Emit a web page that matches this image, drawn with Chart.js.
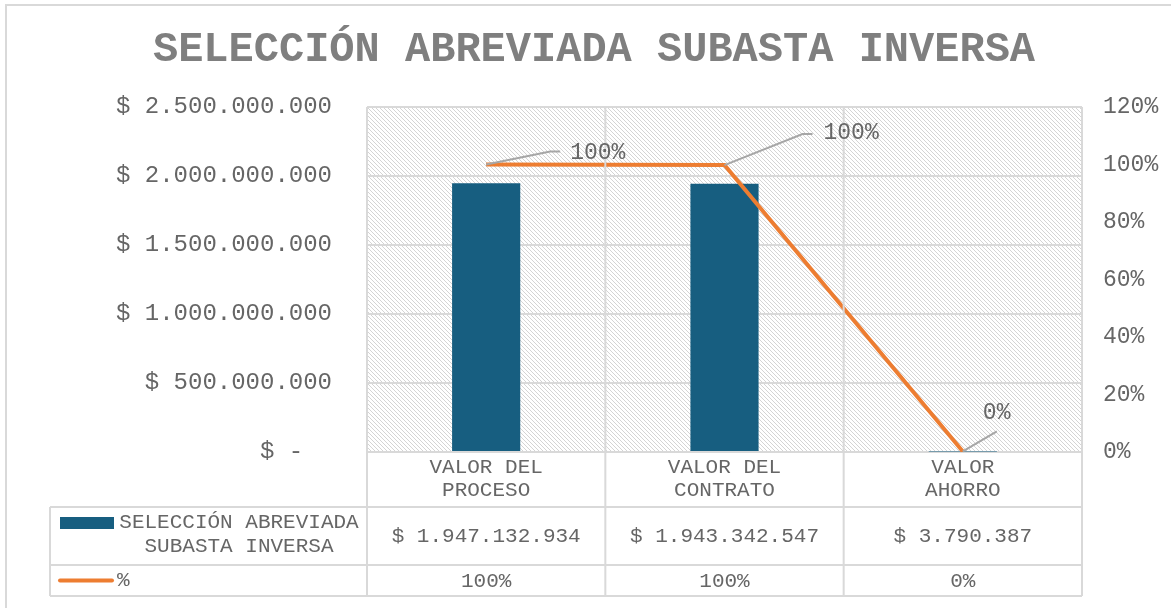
<!DOCTYPE html>
<html lang="es">
<head>
<meta charset="utf-8">
<title>Selección abreviada subasta inversa</title>
<script src="https://cdn.jsdelivr.net/npm/chart.js@4.4.1/dist/chart.umd.min.js"></script>
<style>
  html, body { margin: 0; padding: 0; background: #fff; }
  #wrap { width: 1171px; height: 608px; }
</style>
</head>
<body>
<div id="wrap"><canvas id="chart" width="1171" height="608"></canvas></div>
<script>
// ── Data ────────────────────────────────────────────────────
const TITLE = "SELECCIÓN ABREVIADA SUBASTA INVERSA";
const categories = [["VALOR DEL", "PROCESO"], ["VALOR DEL", "CONTRATO"], ["VALOR", "AHORRO"]];
const seriesNames = [["SELECCIÓN ABREVIADA", "SUBASTA INVERSA"], "%"];
const montos = [1947132934, 1943342547, 3790387];
const porcentajes = [100, 99.8, 0.2];
const montoTicks = [0, 500000000, 1000000000, 1500000000, 2000000000, 2500000000];
const pctTicks = [0, 20, 40, 60, 80, 100, 120];

// ── Styles ──────────────────────────────────────────────────
const FONT = "'Liberation Mono', 'Courier New', monospace";
const TEXT = "#666666";
const GRID = "#d9d9d9";
const BAR = "#175e80";
const LINE = "#ed7d31";
const LEADER = "#a6a6a6";

function miles(n) {
  return String(Math.round(n)).replace(/\B(?=(\d{3})+(?!\d))/g, ".");
}
function pesos(n) { return n === 0 ? "$ -  " : "$ " + miles(n); }
function pct(n) { return Math.round(n) + "%"; }

function hatchPattern(ctx) {
  const c = document.createElement("canvas");
  c.width = 4; c.height = 4;
  const g = c.getContext("2d");
  g.fillStyle = "#ffffff";
  g.fillRect(0, 0, 4, 4);
  g.strokeStyle = "#d4d4d4";
  g.lineWidth = 1;
  g.beginPath();
  g.moveTo(-1, -1); g.lineTo(5, 5);
  g.moveTo(-1, 3); g.lineTo(1, 5);
  g.moveTo(3, -1); g.lineTo(5, 1);
  g.stroke();
  return ctx.createPattern(c, "repeat");
}

// label placement relative to each line point: leader end, label anchor
const labelOffsets = [
  { lx: 64, ly: -13, tail: 10, tx: 84, ty: -12 },
  { lx: 78, ly: -31, tail: 10, tx: 99, ty: -32 },
  { lx: 34, ly: -20, tail: 0, tx: 20, ty: -39 },
];

// ── Excel look: hatch, table, labels, title ─────────────────
const excelLook = {
  id: "excelLook",
  beforeDraw(chart) {
    const { ctx, chartArea: a } = chart;
    ctx.save();
    ctx.fillStyle = "#fff";
    ctx.fillRect(0, 0, chart.width, chart.height);
    ctx.fillStyle = hatchPattern(ctx);
    ctx.fillRect(a.left, a.top, a.right - a.left, a.bottom - a.top);
    ctx.strokeStyle = GRID;
    ctx.lineWidth = 2;
    ctx.strokeRect(6, 5, chart.width + 20, chart.height + 20);
    ctx.restore();
  },
  afterDraw(chart) {
    const { ctx, chartArea: a, scales } = chart;
    const x = scales.x;
    const centers = categories.map((_, i) => x.getPixelForValue(i));
    const bounds = [a.left];
    for (let i = 0; i < centers.length - 1; i++) bounds.push((centers[i] + centers[i + 1]) / 2);
    bounds.push(a.right);

    const tableLeft = 50;
    const r1 = a.bottom + 55, r2 = a.bottom + 113, r3 = a.bottom + 144;

    ctx.save();
    // grid of table + vertical category lines
    ctx.strokeStyle = GRID;
    ctx.lineWidth = 2;
    ctx.beginPath();
    bounds.forEach((b) => { ctx.moveTo(b, a.top); ctx.lineTo(b, r3); });
    [r1, r2, r3].forEach((r) => { ctx.moveTo(tableLeft, r); ctx.lineTo(a.right, r); });
    ctx.moveTo(tableLeft, r1); ctx.lineTo(tableLeft, r3);
    ctx.stroke();

    ctx.fillStyle = TEXT;
    ctx.textBaseline = "middle";
    ctx.textAlign = "center";
    ctx.font = "21px " + FONT;

    // category labels
    categories.forEach((lines, i) => {
      lines.forEach((t, k) => ctx.fillText(t, centers[i], a.bottom + 15 + k * 23));
    });
    // bar series row
    montos.forEach((v, i) => ctx.fillText(pesos(v), centers[i], (r1 + r2) / 2));
    // line series row
    porcentajes.forEach((v, i) => ctx.fillText(pct(v), centers[i], (r2 + r3) / 2 + 1));

    // legend keys
    ctx.fillStyle = BAR;
    ctx.fillRect(60, r1 + 10, 54, 12);
    ctx.fillStyle = TEXT;
    seriesNames[0].forEach((t, k) => ctx.fillText(t, 239, r1 + 15 + k * 24));
    ctx.strokeStyle = LINE;
    ctx.lineWidth = 4;
    ctx.lineCap = "round";
    ctx.beginPath();
    ctx.moveTo(60, (r2 + r3) / 2);
    ctx.lineTo(112, (r2 + r3) / 2);
    ctx.stroke();
    ctx.textAlign = "left";
    ctx.fillText(seriesNames[1], 117, (r2 + r3) / 2);

    // data labels with leader lines on the line series
    const pts = chart.getDatasetMeta(1).data;
    ctx.font = "23px " + FONT;
    ctx.strokeStyle = LEADER;
    ctx.lineWidth = 2;
    ctx.lineCap = "butt";
    pts.forEach((p, i) => {
      const o = labelOffsets[i];
      ctx.beginPath();
      ctx.moveTo(p.x, p.y);
      ctx.lineTo(p.x + o.lx, p.y + o.ly);
      if (o.tail) ctx.lineTo(p.x + o.lx + o.tail, p.y + o.ly);
      ctx.stroke();
      ctx.fillText(pct(porcentajes[i]), p.x + o.tx, p.y + o.ty);
    });

    // title
    ctx.textAlign = "center";
    ctx.fillStyle = "#7f7f7f";
    ctx.font = "bold 42px " + FONT;
    ctx.fillText(TITLE, 594, 50);
    ctx.restore();
  },
};

// ── Chart ───────────────────────────────────────────────────
const ctx = document.getElementById("chart").getContext("2d");
new Chart(ctx, {
  data: {
    labels: categories,
    datasets: [
      {
        type: "bar",
        label: seriesNames[0].join(" "),
        data: montos,
        yAxisID: "y",
        backgroundColor: BAR,
        barPercentage: 0.286,
        categoryPercentage: 1,
        order: 2,
      },
      {
        type: "line",
        label: seriesNames[1],
        data: porcentajes,
        yAxisID: "y1",
        borderColor: LINE,
        borderWidth: 4,
        pointRadius: 0,
        tension: 0,
        order: 1,
      },
    ],
  },
  options: {
    responsive: false,
    animation: false,
    layout: { padding: { top: 107, bottom: 156, left: 0, right: 0 } },
    plugins: { legend: { display: false }, tooltip: { enabled: false } },
    scales: {
      x: { display: false, offset: true },
      y: {
        position: "left",
        min: montoTicks[0],
        max: montoTicks[montoTicks.length - 1],
        afterBuildTicks: (s) => { s.ticks = montoTicks.map((v) => ({ value: v })); },
        afterFit: (s) => { s.width = 367; },
        ticks: {
          color: TEXT,
          font: { family: FONT, size: 24 },
          padding: 35,
          callback: (v) => pesos(v),
        },
        grid: { color: GRID, lineWidth: 2, drawTicks: false },
        border: { display: false },
      },
      y1: {
        position: "right",
        min: pctTicks[0],
        max: pctTicks[pctTicks.length - 1],
        afterBuildTicks: (s) => { s.ticks = pctTicks.map((v) => ({ value: v })); },
        afterFit: (s) => { s.width = 89; },
        ticks: {
          color: TEXT,
          font: { family: FONT, size: 23 },
          padding: 21,
          callback: (v) => v + "%",
        },
        grid: { display: false, drawTicks: false },
        border: { display: false },
      },
    },
  },
  plugins: [excelLook],
});
</script>
</body>
</html>
